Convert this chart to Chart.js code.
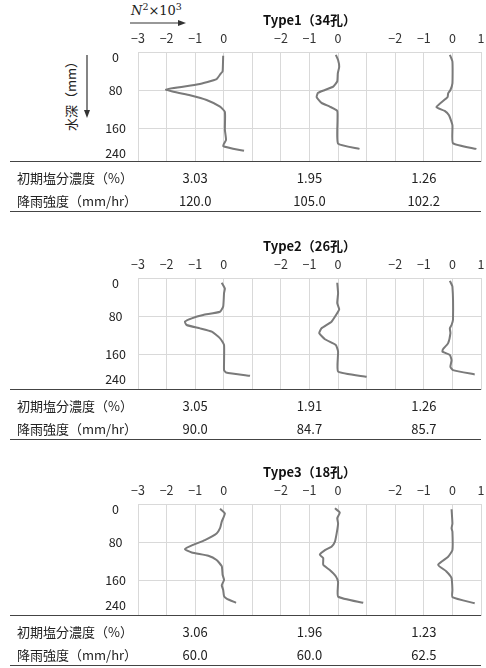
<!DOCTYPE html>
<html>
<head>
<meta charset="utf-8">
<script src="https://cdn.jsdelivr.net/npm/chart.js@4.4.1/dist/chart.umd.min.js"></script>
<style>
  html, body { margin: 0; padding: 0; background: #fff; }
  body { width: 486px; height: 668px; position: relative; overflow: hidden;
         font-family: "Noto Sans CJK JP", "Noto Sans", sans-serif; color: #222; }
  canvas { position: absolute; left: 0; }
  .rule { position: absolute; left: 10px; width: 471px; height: 0; border-top: 1.5px solid #444; }
  .txt  { position: absolute; font-size: 13px; line-height: 16px; white-space: nowrap; }
  .val  { transform: translateX(-50%); }
  #n2   { position: absolute; left: 131px; top: 1px; font-family: "DejaVu Serif", "Liberation Serif", serif; font-size: 13px; }
  #n2 sup { font-size: 9.5px; }
  #ytitle { position: absolute; left: 70px; top: 93px; transform: translate(-50%,-50%) rotate(-90deg);
            font-size: 13px; white-space: nowrap; }
  svg { position: absolute; left: 0; top: 0; }
</style>
</head>
<body>
<div id="n2"><i>N</i><sup>2</sup>×10<sup>3</sup></div>
<div id="ytitle">水深（mm）</div>
<svg width="486" height="130">
  <line x1="130" y1="23" x2="180" y2="23" stroke="#333" stroke-width="1.2"/>
  <path d="M186 23 L178 20 L178 26 Z" fill="#333"/>
  <line x1="87" y1="55" x2="87" y2="111" stroke="#333" stroke-width="1.2"/>
  <path d="M87 118 L84 110 L90 110 Z" fill="#333"/>
</svg>

<script>
/* ===== Data ===== */
const typeTitles  = ['Type1（34孔）', 'Type2（26孔）', 'Type3（18孔）'];
const xTickLabels = ['−3','−2','−1','0','','−2','−1','0','','−2','−1','0','1'];
const yTickLabels = ['0','80','160','240'];
const rowLabels   = ['初期塩分濃度（%）', '降雨強度（mm/hr）'];

const conc1 = ['3.03','1.95','1.26'];
const conc2 = ['3.05','1.91','1.26'];
const conc3 = ['3.06','1.96','1.23'];
const rain1 = ['120.0','105.0','102.2'];
const rain2 = ['90.0','84.7','85.7'];
const rain3 = ['60.0','60.0','62.5'];

// depth (mm) / N^2 x 10^3, one pair per panel
const t1aDepth = [8, 41, 45, 57, 68, 79, 91, 101, 115, 126, 164, 185, 198, 208];
const t1aN2    = [-0.02, -0.04, -0.1, -0.25, -0.89, -2.02, -1.18, -0.6, -0.13, 0.04, 0.04, 0.08, -0.02, 0.71];
const t1bDepth = [6, 17, 31, 45, 62, 73, 80, 86, 95, 107, 115, 124, 143, 193, 204];
const t1bN2    = [-0.08, 0, 0.04, -0.01, -0.03, -0.17, -0.46, -0.7, -0.75, -0.58, -0.29, -0.03, -0.02, 0, 0.75];
const t1cDepth = [6, 20, 66, 80, 87, 95, 116, 124, 133, 154, 192, 204];
const t1cN2    = [-0.09, 0, 0, -0.07, -0.15, -0.17, -0.56, -0.27, -0.12, 0, 0.02, 0.84];

const t2aDepth = [10, 22, 32, 60, 71, 78, 85, 92, 99, 106, 113, 127, 141, 194, 199, 206];
const t2aN2    = [-0.07, 0.04, 0.01, -0.02, -0.13, -0.72, -1.12, -1.36, -1.3, -0.83, -0.42, -0.13, 0.01, 0.01, 0.08, 0.92];
const t2bDepth = [10, 32, 53, 66, 74, 92, 106, 116, 129, 141, 155, 197, 208];
const t2bN2    = [-0.03, 0, -0.03, 0.04, -0.03, -0.23, -0.58, -0.66, -0.46, -0.08, 0, 0, 1.0];
const t2cDepth = [6, 18, 88, 99, 106, 116, 137, 150, 155, 162, 173, 187, 194, 203];
const t2cN2    = [-0.09, 0, 0.02, -0.03, -0.09, -0.07, -0.15, -0.33, -0.35, -0.09, -0.03, -0.07, 0.02, 0.78];

const t3aDepth = [10, 20, 37, 51, 62, 76, 86, 95, 102, 109, 118, 131, 149, 160, 171, 181, 194, 199, 208];
const t3aN2    = [-0.13, 0.04, -0.07, -0.13, -0.25, -0.66, -1.07, -1.36, -1.12, -0.54, -0.25, -0.07, -0.04, 0.01, -0.07, -0.02, 0.01, 0.1, 0.43];
const t3bDepth = [9, 18, 30, 41, 62, 79, 90, 97, 107, 114, 128, 139, 152, 164, 195, 208];
const t3bN2    = [-0.11, 0.06, -0.03, 0, -0.05, -0.11, -0.23, -0.46, -0.64, -0.52, -0.52, -0.29, -0.08, 0, 0, 0.88];
const t3cDepth = [11, 41, 51, 58, 97, 111, 128, 142, 156, 181, 196, 209];
const t3cN2    = [-0.03, 0, -0.03, 0, 0, -0.15, -0.5, -0.21, -0.03, 0, 0, 0.78];

/* ===== Layout / style ===== */
const FONT  = '"Noto Sans CJK JP", "Noto Sans", sans-serif';
const LINE  = '#7a7a7a';
const GRID  = '#d9d9d9';
const panelZero = [3, 7, 11];          // where each panel's 0 sits on the shared x axis
const blockTop  = [0, 226, 452];
const plotH     = [110, 112, 112];
const yLabelPos = [10, 80, 160, 213];  // label "0" and "240" nudged inside the plot
const yGridAt   = [80, 160];

const blocks = [
  { title: typeTitles[0], panels: [[t1aDepth,t1aN2],[t1bDepth,t1bN2],[t1cDepth,t1cN2]], rows: [conc1, rain1] },
  { title: typeTitles[1], panels: [[t2aDepth,t2aN2],[t2bDepth,t2bN2],[t2cDepth,t2cN2]], rows: [conc2, rain2] },
  { title: typeTitles[2], panels: [[t3aDepth,t3aN2],[t3bDepth,t3bN2],[t3cDepth,t3cN2]], rows: [conc3, rain3] },
];

function addDiv(cls, text, left, top){
  const d = document.createElement('div');
  d.className = cls;
  if (text != null) d.textContent = text;
  d.style.left = left + 'px';
  d.style.top  = top + 'px';
  document.body.appendChild(d);
  return d;
}

function noPad(s){ s.paddingTop = s.paddingBottom = s.paddingLeft = s.paddingRight = 0; }

function makeChart(b, i){
  const cv = document.createElement('canvas');
  cv.width = 486; cv.height = 52 + plotH[i];
  cv.style.top = blockTop[i] + 'px';
  document.body.appendChild(cv);
  const yMax = plotH[i] * 80 / 38;

  return new Chart(cv, {
    type: 'line',
    data: {
      datasets: b.panels.map((p, k) => ({
        data: p[0].map((d, j) => ({ x: p[1][j] + panelZero[k], y: d })),
        borderColor: LINE, borderWidth: 2, pointRadius: 0, tension: 0.15, fill: false
      }))
    },
    options: {
      responsive: false, animation: false,
      layout: { autoPadding: false, padding: { left: 0, right: 5, top: 0, bottom: 0 } },
      plugins: {
        legend: { display: false }, tooltip: { enabled: false },
        title: { display: true, text: b.title, fullSize: false, color: '#111',
                 font: { family: FONT, size: 13, weight: 'bold', lineHeight: 1.2 },
                 padding: { top: 12, bottom: 0 } }
      },
      scales: {
        x: {
          type: 'linear', position: 'top', min: 0, max: 12,
          afterBuildTicks: s => { s.ticks = xTickLabels.map((_, j) => ({ value: j })); },
          afterFit: s => { s.height = 24.4; noPad(s); },
          ticks: { callback: (v, j) => xTickLabels[j], autoSkip: false, maxRotation: 0,
                   padding: 6, color: '#333', font: { family: FONT, size: 12.5 } },
          grid: { color: GRID, drawTicks: false },
          border: { color: GRID }
        },
        y: {
          type: 'linear', reverse: true, min: 0, max: yMax,
          afterBuildTicks: s => { s.ticks = yLabelPos.map(v => ({ value: v })); },
          afterFit: s => { s.width = 138; noPad(s); },
          ticks: { callback: (v, j) => yTickLabels[j], crossAlign: 'center', padding: 12,
                   color: '#222', font: { family: FONT, size: 12.5 } },
          grid: { color: c => (c.tick && yGridAt.includes(c.tick.value)) ? GRID : 'rgba(0,0,0,0)', drawTicks: false },
          border: { color: GRID }
        }
      }
    }
  });
}

/* ===== Build ===== */
blocks.forEach((b, i) => {
  const chart = makeChart(b, i);
  const ruleY = blockTop[i] + 52 + plotH[i];
  addDiv('rule', null, 10, ruleY - 0.75);
  addDiv('rule', null, 10, ruleY + 50 - 0.75);
  rowLabels.forEach((lab, r) => {
    const cy = ruleY + (r ? 39 : 16);
    addDiv('txt', lab, 17, cy - 8);
    b.rows[r].forEach((v, k) => {
      const cx = chart.scales.x.getPixelForValue(panelZero[k] - 1);
      addDiv('txt val', v, cx, cy - 8);
    });
  });
});
</script>
</body>
</html>
